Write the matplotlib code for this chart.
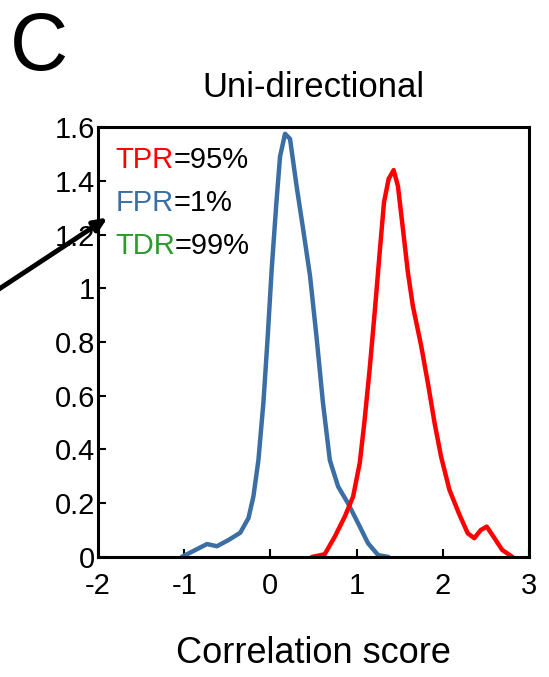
import numpy as np
import matplotlib.pyplot as plt
from matplotlib.ticker import FormatStrFormatter

plt.rcParams['font.family'] = ['Liberation Sans Narrow', 'Liberation Sans', 'DejaVu Sans']
plt.rcParams['axes.unicode_minus'] = False

# negative (false) pairs - blue density
neg_x = [-1.03, -0.87, -0.736, -0.62, -0.486, -0.35, -0.254, -0.197, -0.139, -0.081, -0.031,
         0.015, 0.07, 0.112, 0.17, 0.228, 0.304, 0.38, 0.46, 0.535, 0.61, 0.69, 0.786, 0.90,
         1.017, 1.133, 1.25, 1.37]
neg_y = [0.0, 0.026, 0.048, 0.040, 0.063, 0.09, 0.145, 0.225, 0.36, 0.574, 0.82,
         1.07, 1.32, 1.49, 1.575, 1.556, 1.38, 1.22, 1.046, 0.82, 0.574, 0.36, 0.262, 0.20,
         0.126, 0.051, 0.007, 0.0]

# positive (true) pairs - red density
pos_x = [0.48, 0.63, 0.748, 0.863, 0.96, 1.037, 1.09, 1.152, 1.21, 1.268, 1.318, 1.372, 1.43,
         1.48, 1.538, 1.595, 1.653, 1.75, 1.827, 1.904, 1.98, 2.077, 2.19, 2.29, 2.366, 2.44,
         2.51, 2.60, 2.69, 2.81]
pos_y = [0.0, 0.01, 0.076, 0.15, 0.225, 0.35, 0.50, 0.70, 0.91, 1.133, 1.32, 1.407, 1.44,
         1.38, 1.22, 1.06, 0.934, 0.785, 0.648, 0.50, 0.374, 0.25, 0.16, 0.088, 0.07, 0.10,
         0.113, 0.07, 0.026, 0.0]

rates = [("TPR", "=95%", "#ff0000"), ("FPR", "=1%", "#3a6ea5"), ("TDR", "=99%", "#2e9a2e")]

fig = plt.figure(figsize=(5.49, 6.77), dpi=100)
ax = fig.add_axes([0.1785, 0.1773, 0.785, 0.635])

ax.plot(neg_x, neg_y, color="#3a6ea5", lw=3.2, solid_joinstyle="round", solid_capstyle="round")
ax.plot(pos_x, pos_y, color="#ff0000", lw=3.2, solid_joinstyle="round", solid_capstyle="round")

ax.set_xlim(-2, 3)
ax.set_ylim(0, 1.6)
ax.set_xticks(np.arange(-2, 4, 1))
ax.set_yticks(np.arange(0, 1.61, 0.2))
ax.xaxis.set_major_formatter(FormatStrFormatter('%g'))
ax.yaxis.set_major_formatter(FormatStrFormatter('%g'))
ax.tick_params(direction="in", length=6, width=1.5, labelsize=21, pad=2,
               top=False, right=False)
ax.tick_params(axis="x", pad=11)
for s in ax.spines.values():
    s.set_linewidth(2.2)

ax.set_title("Uni-directional", fontsize=25, pad=22)
ax.set_xlabel("Correlation score", fontsize=26, labelpad=26)

for i, (name, val, col) in enumerate(rates):
    y = 0.955 - i * 0.1
    t = ax.text(0.04, y, name, color=col, fontsize=21, transform=ax.transAxes, va="top")
    ax.annotate(val, xycoords=t, xy=(1, 0), va="bottom", fontsize=21, color="black")

fig.text(0.018, 1 - 70 / 677, "C", fontsize=58, va="baseline", ha="left")

ax.annotate("", xy=(110 / 549, 1 - 216 / 677), xytext=(-0.01, 1 - 292 / 677),
            xycoords="figure fraction", textcoords="figure fraction",
            arrowprops=dict(arrowstyle="-|>,head_length=0.8,head_width=0.35", lw=3.5, color="black"),
            annotation_clip=False)

fig.savefig("out.png", dpi=100)
